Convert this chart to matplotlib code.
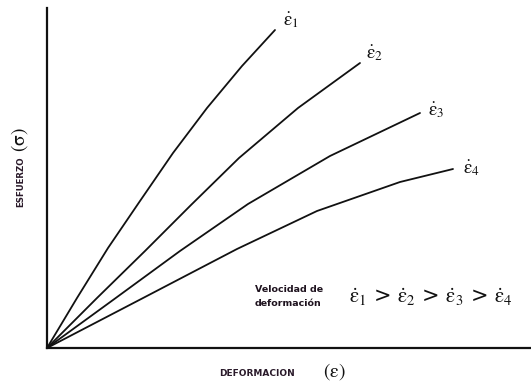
import matplotlib
matplotlib.use("Agg")
import matplotlib.pyplot as plt

plt.rcParams['mathtext.fontset'] = 'stix'

# Curves (arbitrary units: strain, stress)
strain_1 = [0, 30, 61, 93, 126, 160, 195, 228]
stress_1 = [0, 50, 100, 147, 195, 240, 282, 318]
strain_2 = [0, 50, 98, 144, 192, 251, 313]
stress_2 = [0, 50, 97, 143, 190, 240, 285]
strain_3 = [0, 66, 133, 201, 283, 373]
stress_3 = [0, 48, 97, 144, 192, 235]
strain_4 = [0, 98, 190, 270, 353, 406]
stress_4 = [0, 51, 99, 137, 166, 179]

labels = [r'$\dot{\mathrm{\varepsilon}}_1$', r'$\dot{\mathrm{\varepsilon}}_2$',
          r'$\dot{\mathrm{\varepsilon}}_3$', r'$\dot{\mathrm{\varepsilon}}_4$']
series = [(strain_1, stress_1), (strain_2, stress_2),
          (strain_3, stress_3), (strain_4, stress_4)]
label_offsets = [(8, 10), (6, 10), (8, 3), (10, 1)]

W, H = 531, 389
fig = plt.figure(figsize=(W / 100, H / 100), dpi=100)
ax = fig.add_axes([47 / W, (H - 348) / H, (W - 47) / W, (348 - 8) / H])
ax.set_xlim(0, 484)
ax.set_ylim(0, 340)

for (x, y), lab, off in zip(series, labels, label_offsets):
    ax.plot(x, y, color='#111111', lw=1.3, solid_capstyle='round',
            solid_joinstyle='round')
    ax.annotate(lab, xy=(x[-1], y[-1]), xytext=off, textcoords='offset pixels',
                ha='left', va='center', fontsize=13.5, color='#111111')

for s in ['top', 'right']:
    ax.spines[s].set_visible(False)
for s in ['left', 'bottom']:
    ax.spines[s].set_linewidth(1.6)
    ax.spines[s].set_color('#111111')
ax.set_xticks([])
ax.set_yticks([])
ax.patch.set_alpha(0)

# Axis labels
fig.text(257 / W, 1 - 374 / H, 'DEFORMACION', ha='center', va='center',
         fontsize=6.5, fontweight='bold', color='#2a1a2a', family='DejaVu Sans')
fig.text(334 / W, 1 - 372 / H, r'$(\mathrm{\varepsilon})$', ha='center', va='center',
         fontsize=14, color='#111111')
fig.text(21 / W, 1 - 182 / H, 'ESFUERZO', ha='center', va='center', rotation=90,
         fontsize=6.2, fontweight='bold', color='#2a1a2a', family='DejaVu Sans')
fig.text(20 / W, 1 - 140 / H, r'$(\mathrm{\sigma})$', ha='center', va='center', rotation=90,
         fontsize=14, color='#111111')

# Legend note
fig.text(255 / W, 1 - 290 / H, 'Velocidad de', ha='left', va='center',
         fontsize=6.8, fontweight='bold', color='#1e121e', family='DejaVu Sans')
fig.text(255 / W, 1 - 303 / H, 'deformación', ha='left', va='center',
         fontsize=6.8, fontweight='bold', color='#1e121e', family='DejaVu Sans')
fig.text(431 / W, 1 - 297 / H,
         r'$\dot{\mathrm{\varepsilon}}_1$ > $\dot{\mathrm{\varepsilon}}_2$ > '
         r'$\dot{\mathrm{\varepsilon}}_3$ > $\dot{\mathrm{\varepsilon}}_4$',
         ha='center', va='center', fontsize=15, color='#111111',
         family='DejaVu Sans')

fig.savefig('out.png', dpi=100, facecolor='white')
